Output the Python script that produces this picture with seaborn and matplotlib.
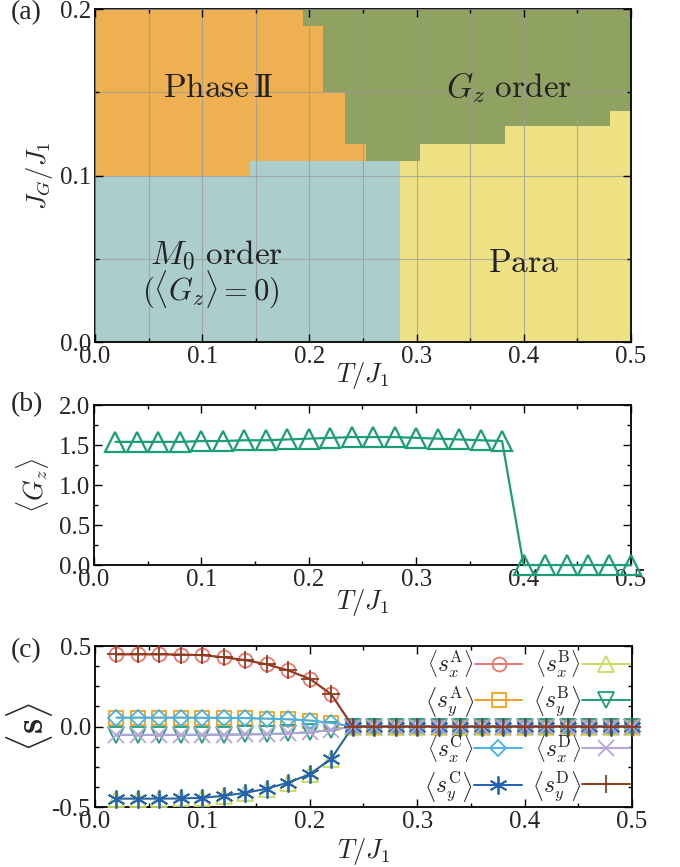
import matplotlib
matplotlib.use("Agg")
import pandas as pd
import matplotlib.pyplot as plt
import seaborn as sns
from matplotlib.ticker import MultipleLocator

sns.set_style("ticks")
plt.rcParams['font.family'] = ['Liberation Serif', 'DejaVu Serif']
plt.rcParams['mathtext.fontset'] = 'cm'
plt.rcParams['axes.unicode_minus'] = False

# --- (a) phase diagram boundaries ---
# lower edge of Phase II / Gz order, stepped along T
t_edge = [0.0, 0.145, 0.253, 0.285, 0.303, 0.383, 0.481, 0.5]
jg_edge = [0.100, 0.109, 0.109, 0.109, 0.119, 0.1295, 0.139, 0.139]
# Phase II | Gz order boundary, stepped along J_G
jg_gz = [0.109, 0.119, 0.150, 0.190, 0.200]
t_gz = [0.253, 0.2335, 0.213, 0.194, 0.194]
# top of M0 order (left of the Para boundary)
t_m0 = [0.0, 0.145, 0.285]
jg_m0 = [0.100, 0.109, 0.109]

# --- (b) <G_z> vs T ---
T = [0.02, 0.04, 0.06, 0.08, 0.10, 0.12, 0.14, 0.16, 0.18, 0.20, 0.22, 0.24, 0.26,
     0.28, 0.30, 0.32, 0.34, 0.36, 0.38, 0.40, 0.42, 0.44, 0.46, 0.48, 0.50]
Gz = [1.54, 1.54, 1.54, 1.54, 1.55, 1.55, 1.56, 1.56, 1.57, 1.58, 1.59, 1.60, 1.60,
      1.60, 1.59, 1.58, 1.57, 1.56, 1.55, 0.0, 0.0, 0.0, 0.0, 0.0, 0.0]

# --- (c) sublattice moments vs T ---
sx_A = [0.448, 0.448, 0.448, 0.447, 0.443, 0.430, 0.412, 0.386, 0.348, 0.296, 0.200, 0.0, 0.0,
        0.0, 0.0, 0.0, 0.0, 0.0, 0.0, 0.0, 0.0, 0.0, 0.0, 0.0, 0.0]
sy_A = [0.055, 0.055, 0.055, 0.055, 0.054, 0.054, 0.052, 0.049, 0.045, 0.037, 0.022, 0.0, 0.0,
        0.0, 0.0, 0.0, 0.0, 0.0, 0.0, 0.0, 0.0, 0.0, 0.0, 0.0, 0.0]
sx_B = [-0.448, -0.448, -0.448, -0.447, -0.443, -0.430, -0.412, -0.386, -0.348, -0.296, -0.200, 0.0, 0.0,
        0.0, 0.0, 0.0, 0.0, 0.0, 0.0, 0.0, 0.0, 0.0, 0.0, 0.0, 0.0]
sy_B = [-0.052, -0.052, -0.052, -0.052, -0.051, -0.051, -0.049, -0.047, -0.043, -0.036, -0.022, 0.0, 0.0,
        0.0, 0.0, 0.0, 0.0, 0.0, 0.0, 0.0, 0.0, 0.0, 0.0, 0.0, 0.0]
sx_C = [0.055, 0.055, 0.055, 0.055, 0.054, 0.054, 0.052, 0.049, 0.045, 0.037, 0.022, 0.0, 0.0,
        0.0, 0.0, 0.0, 0.0, 0.0, 0.0, 0.0, 0.0, 0.0, 0.0, 0.0, 0.0]
sy_C = [-0.448, -0.448, -0.448, -0.447, -0.443, -0.430, -0.412, -0.386, -0.348, -0.296, -0.200, 0.0, 0.0,
        0.0, 0.0, 0.0, 0.0, 0.0, 0.0, 0.0, 0.0, 0.0, 0.0, 0.0, 0.0]
sx_D = [-0.052, -0.052, -0.052, -0.052, -0.051, -0.051, -0.049, -0.047, -0.043, -0.036, -0.022, 0.0, 0.0,
        0.0, 0.0, 0.0, 0.0, 0.0, 0.0, 0.0, 0.0, 0.0, 0.0, 0.0, 0.0]
sy_D = [0.448, 0.448, 0.448, 0.447, 0.443, 0.430, 0.412, 0.386, 0.348, 0.296, 0.200, 0.0, 0.0,
        0.0, 0.0, 0.0, 0.0, 0.0, 0.0, 0.0, 0.0, 0.0, 0.0, 0.0, 0.0]

series = [
    (r'$\left\langle s_x^{\mathrm{A}}\right\rangle$', sx_A, '#ee7472', 'o', 10),
    (r'$\left\langle s_y^{\mathrm{A}}\right\rangle$', sy_A, '#f2a01c', 's', 10),
    (r'$\left\langle s_x^{\mathrm{B}}\right\rangle$', sx_B, '#c9dc5c', '^', 11),
    (r'$\left\langle s_y^{\mathrm{B}}\right\rangle$', sy_B, '#1b9e77', 'v', 11),
    (r'$\left\langle s_x^{\mathrm{C}}\right\rangle$', sx_C, '#45b3e6', 'D', 8),
    (r'$\left\langle s_y^{\mathrm{C}}\right\rangle$', sy_C, '#2462b3', (6, 2, 0), 13),
    (r'$\left\langle s_x^{\mathrm{D}}\right\rangle$', sx_D, '#b9a3d9', 'x', 11),
    (r'$\left\langle s_y^{\mathrm{D}}\right\rangle$', sy_D, '#8c3b1c', '+', 13),
]

TICK = 18
LAB = 19

fig = plt.figure(figsize=(6.8, 8.67), dpi=100)
ax_a = fig.add_axes([0.1397, 0.6055, 0.788, 0.3841])
ax_b = fig.add_axes([0.1382, 0.3483, 0.7897, 0.1845])
ax_c = fig.add_axes([0.1397, 0.0692, 0.7897, 0.1857])


def style_axis(ax, xmaj, xmin, ymaj, ymin):
    ax.xaxis.set_major_locator(MultipleLocator(xmaj))
    ax.xaxis.set_minor_locator(MultipleLocator(xmin))
    ax.yaxis.set_major_locator(MultipleLocator(ymaj))
    ax.yaxis.set_minor_locator(MultipleLocator(ymin))
    ax.tick_params(which='both', direction='in', top=True, right=True,
                   labelsize=TICK, width=1.0, color='black')
    ax.tick_params(which='major', length=6, pad=3)
    ax.tick_params(which='minor', length=3)
    for sp in ax.spines.values():
        sp.set_linewidth(1.3)
        sp.set_color('black')


# --- (a) phase diagram ---
c_orange, c_green, c_yellow, c_blue = '#efb052', '#8fa262', '#ede183', '#abcdcc'
ax_a.fill_between(t_edge, jg_edge, 0.2, step='post', color=c_orange, lw=0)
ax_a.fill_betweenx(jg_gz, t_gz, 0.5, step='post', color=c_green, lw=0)
ax_a.fill_between(t_edge, 0, jg_edge, step='post', color=c_yellow, lw=0)
ax_a.fill_between(t_m0, 0, jg_m0, step='post', color=c_blue, lw=0)
ax_a.set_xlim(0, 0.5)
ax_a.set_ylim(0, 0.2)
style_axis(ax_a, 0.1, 0.05, 0.1, 0.05)
ax_a.set_axisbelow(False)
ax_a.grid(which='both', color='#9a9a9a', lw=0.8, alpha=0.75)
ax_a.set_xticks([0.0, 0.1, 0.2, 0.3, 0.4, 0.5])
ax_a.set_xticklabels(['0.0', '0.1', '0.2', '0.3', '0.4', '0.5'])
ax_a.set_yticks([0.0, 0.1, 0.2])
ax_a.set_yticklabels(['0.0', '0.1', '0.2'])
ax_a.set_xlabel(r'$T/J_1$', fontsize=LAB)
ax_a.set_ylabel(r'$J_G/J_1$', fontsize=LAB)
ax_a.xaxis.set_label_coords(0.5, -0.055)
ax_a.yaxis.set_label_coords(-0.075, 0.5)

ax_a.text(0.115, 0.152, r'$\mathrm{Phase\,I\!I}$', fontsize=24,
          ha='center', va='center', color='#222222')
ax_a.text(0.386, 0.153, r'$G_z\ \mathrm{order}$', fontsize=24,
          ha='center', va='center', color='#222222')
ax_a.text(0.113, 0.052, r'$M_0\ \mathrm{order}$', fontsize=24,
          ha='center', va='center', color='#222222')
ax_a.text(0.108, 0.032, r'$(\langle G_z\rangle = 0)$', fontsize=22,
          ha='center', va='center', color='#222222')
ax_a.text(0.40, 0.047, r'$\mathrm{Para}$', fontsize=24,
          ha='center', va='center', color='#222222')

# --- (b) <G_z> ---
df_b = pd.DataFrame({'T': T, 'Gz': Gz})
sns.lineplot(data=df_b, x='T', y='Gz', ax=ax_b, color='#1b9e77', lw=1.6,
             marker='^', ms=14, mfc='none', mec='#1b9e77', mew=1.6,
             clip_on=False, zorder=3)
ax_b.set_xlim(0, 0.5)
ax_b.set_ylim(0, 2.0)
style_axis(ax_b, 0.1, 0.05, 0.5, 0.25)
ax_b.set_xticks([0.0, 0.1, 0.2, 0.3, 0.4, 0.5])
ax_b.set_xticklabels(['0.0', '0.1', '0.2', '0.3', '0.4', '0.5'])
ax_b.set_yticks([0.0, 0.5, 1.0, 1.5, 2.0])
ax_b.set_yticklabels(['0.0', '0.5', '1.0', '1.5', '2.0'])
ax_b.set_xlabel(r'$T/J_1$', fontsize=LAB)
ax_b.set_ylabel(r'$\langle G_z\rangle$', fontsize=LAB)
ax_b.xaxis.set_label_coords(0.5, -0.14)
ax_b.yaxis.set_label_coords(-0.08, 0.5)

# --- (c) <s> ---
handles = []
for label, vals, col, mk, size in series:
    df_c = pd.DataFrame({'T': T, 's': vals})
    sns.lineplot(data=df_c, x='T', y='s', ax=ax_c, color=col, lw=1.4,
                 marker=mk, ms=size, mfc='none', mec=col, mew=1.3,
                 clip_on=False, zorder=3)
    handles.append(ax_c.lines[-1])
ax_c.set_xlim(0, 0.5)
ax_c.set_ylim(-0.5, 0.5)
style_axis(ax_c, 0.1, 0.05, 0.5, 0.125)
ax_c.set_xticks([0.0, 0.1, 0.2, 0.3, 0.4, 0.5])
ax_c.set_xticklabels(['0.0', '0.1', '0.2', '0.3', '0.4', '0.5'])
ax_c.set_yticks([-0.5, 0.0, 0.5])
ax_c.set_yticklabels(['-0.5', '0.0', '0.5'])
ax_c.set_xlabel(r'$T/J_1$', fontsize=LAB)
ax_c.set_ylabel(r'$\langle \mathbf{s}\rangle$', fontsize=28)
ax_c.xaxis.set_label_coords(0.5, -0.18)
ax_c.yaxis.set_label_coords(-0.075, 0.5)

labels = [s[0] for s in series]
leg_kw = dict(ncol=2, frameon=False, markerfirst=False, fontsize=17,
              handlelength=2.0, handletextpad=0.05, columnspacing=0.45,
              labelspacing=0.2, borderpad=0.0, borderaxespad=0.1)
leg1 = ax_c.legend([handles[0], handles[1], handles[2], handles[3]],
                   [labels[0], labels[1], labels[2], labels[3]],
                   loc='upper right', **leg_kw)
ax_c.add_artist(leg1)
ax_c.legend([handles[4], handles[5], handles[6], handles[7]],
            [labels[4], labels[5], labels[6], labels[7]],
            loc='lower right', **leg_kw)

# panel labels
fig.text(0.016, 0.986, '(a)', fontsize=20, va='center')
fig.text(0.016, 0.533, '(b)', fontsize=20, va='center')
fig.text(0.016, 0.250, '(c)', fontsize=20, va='center')

fig.savefig('out.png', dpi=100)
